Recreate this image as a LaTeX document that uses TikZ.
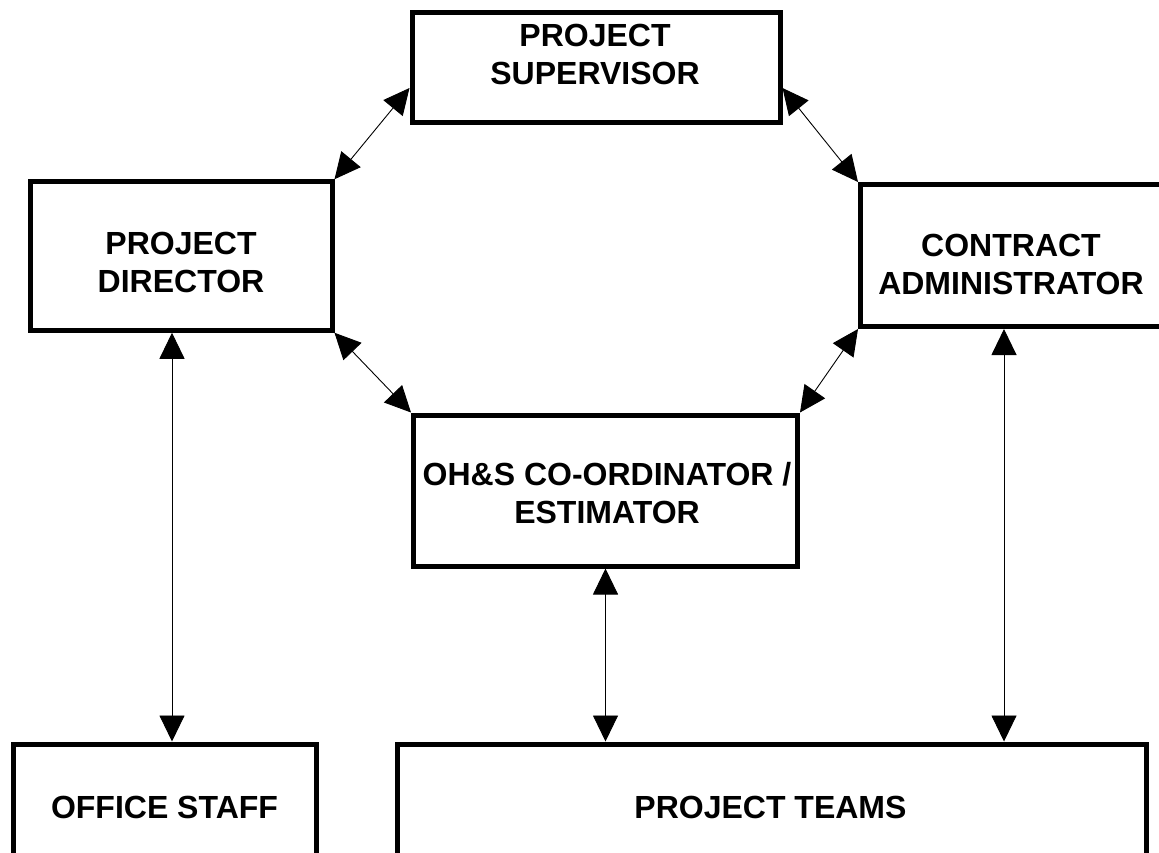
\documentclass[tikz,border=0pt]{standalone}
\usepackage{fontspec}
\setmainfont{Liberation Sans}
\usetikzlibrary{arrows.meta}
\begin{document}
\begin{tikzpicture}[x=1pt,y=-1pt,
  box/.style={draw, line width=5pt, minimum width=#1, inner sep=0pt},
  label/.style={align=center, font=\fontsize{32}{38}\selectfont\bfseries, inner sep=0pt},
  link/.style={line width=0.9pt, {Triangle[length=26pt,width=25pt]}-{Triangle[length=26pt,width=25pt]}}
]
\useasboundingbox (0,0) rectangle (1159,852);
\clip (0,0) rectangle (1159,852);

% boxes
\node[box=368pt, minimum height=110pt] (ps) at (596,67.5) {};
\node[box=302pt, minimum height=148.5pt] (pd) at (181,256) {};
\node[box=302pt, minimum height=142pt] (ca) at (1011.5,255.5) {};
\node[box=384pt, minimum height=151pt] (oh) at (605.5,490.5) {};
\node[box=303pt, minimum height=300pt] (os) at (164.5,894) {};
\node[box=749pt, minimum height=300pt] (pt) at (771.5,894) {};

% labels
\node[label] (psT) at (595,54.5) {PROJECT\\SUPERVISOR};
\node[label] (pdT) at (181,262) {PROJECT\\DIRECTOR};
\node[label] (caT) at (1011,264) {CONTRACT\\ADMINISTRATOR};
\node[label] (ohT) at (607,493) {OH\&S CO-ORDINATOR /\\ESTIMATOR};
\node[label] (osT) at (164.5,807.5) {OFFICE STAFF};
\node[label] (ptT) at (770.5,807.5) {PROJECT TEAMS};

% connectors around the central ring
\draw[link] ([yshift=37pt]ps.south west) -- (pd.north east);
\draw[link] ([yshift=37pt]ps.south east) -- (ca.north west);
\draw[link] (pd.south east) -- (oh.north west);
\draw[link] (ca.south west) -- (oh.north east);

% vertical connectors down to the bottom row
\draw[link] ([xshift=-9pt]pd.south) coordinate (pdA) -- (pdA |- os.north);
\draw[link] (oh.south) -- (oh.south |- pt.north);
\draw[link] ([xshift=-7.5pt]ca.south) coordinate (caA) -- (caA |- pt.north);
\end{tikzpicture}
\end{document}
